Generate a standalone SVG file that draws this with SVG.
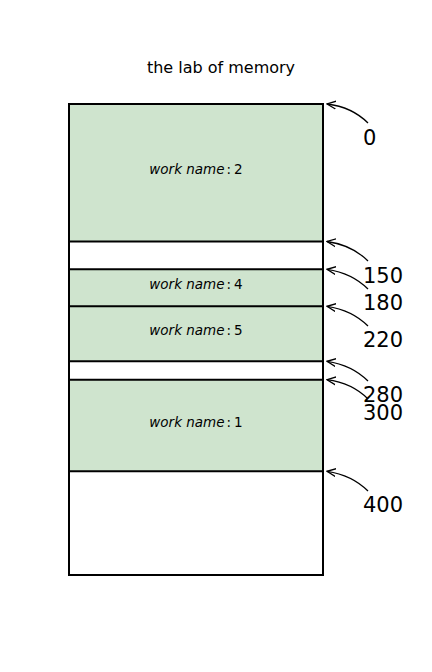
<svg xmlns="http://www.w3.org/2000/svg" width="432" height="672" viewBox="0 0 432 672">
<style>
.t{font-family:"DejaVu Sans",sans-serif;fill:#000}
.title{font-size:16px;text-anchor:middle}
.lbl{font-size:13.5px;text-anchor:middle}
.num{font-size:21px}
.blk{fill:#cfe4ce;stroke:none}
.ln{stroke:#000;stroke-width:2;fill:none}
.arr{stroke:#000;stroke-width:1.3;fill:none;marker-end:url(#ah)}
</style>
<defs>
<marker id="ah" viewBox="0 0 10 10" refX="9" refY="5" markerWidth="10" markerHeight="10" markerUnits="userSpaceOnUse" orient="auto">
<path d="M0,1 L9,5 L0,9" fill="none" stroke="#000" stroke-width="1.3"/>
</marker>
</defs>
<rect width="432" height="672" fill="#fff"/>
<text class="t title" x="221" y="73">the lab of memory</text>
<g id="block2"><rect class="blk" x="69" y="104" width="254" height="137.5"/><text class="t lbl" x="196" y="174"><tspan font-style="italic">work name</tspan><tspan dx="2">:</tspan><tspan dx="3">2</tspan></text></g>
<g id="block4"><rect class="blk" x="69" y="269.3" width="254" height="37"/><text class="t lbl" x="196" y="289"><tspan font-style="italic">work name</tspan><tspan dx="2">:</tspan><tspan dx="3">4</tspan></text></g>
<g id="block5"><rect class="blk" x="69" y="306.3" width="254" height="55"/><text class="t lbl" x="196" y="335"><tspan font-style="italic">work name</tspan><tspan dx="2">:</tspan><tspan dx="3">5</tspan></text></g>
<g id="block1"><rect class="blk" x="69" y="379.7" width="254" height="91.6"/><text class="t lbl" x="196" y="427"><tspan font-style="italic">work name</tspan><tspan dx="2">:</tspan><tspan dx="3">1</tspan></text></g>
<g id="memory">
<rect class="ln" x="69" y="104" width="254" height="471"/>
<line class="ln" x1="69" y1="241.5" x2="323" y2="241.5"/>
<line class="ln" x1="69" y1="269.3" x2="323" y2="269.3"/>
<line class="ln" x1="69" y1="306.3" x2="323" y2="306.3"/>
<line class="ln" x1="69" y1="361.3" x2="323" y2="361.3"/>
<line class="ln" x1="69" y1="379.7" x2="323" y2="379.7"/>
<line class="ln" x1="69" y1="471.3" x2="323" y2="471.3"/>
</g>
<g id="labels">
<text class="t num" x="363" y="145">0</text>
<text class="t num" x="363" y="283">150</text>
<text class="t num" x="363" y="310">180</text>
<text class="t num" x="363" y="347">220</text>
<text class="t num" x="363" y="402">280</text>
<text class="t num" x="363" y="420">300</text>
<text class="t num" x="363" y="512">400</text>
</g>
<g id="connectors">
<path class="arr" d="M368,123 Q352,107 327,104"/>
<path class="arr" d="M368,261 Q352,245 327,241.5"/>
<path class="arr" d="M368,289 Q352,273 327,269.3"/>
<path class="arr" d="M368,326 Q352,310 327,306.3"/>
<path class="arr" d="M368,381 Q352,365 327,361.3"/>
<path class="arr" d="M368,399 Q352,383 327,379.7"/>
<path class="arr" d="M368,491 Q352,475 327,471.3"/>
</g>
</svg>
